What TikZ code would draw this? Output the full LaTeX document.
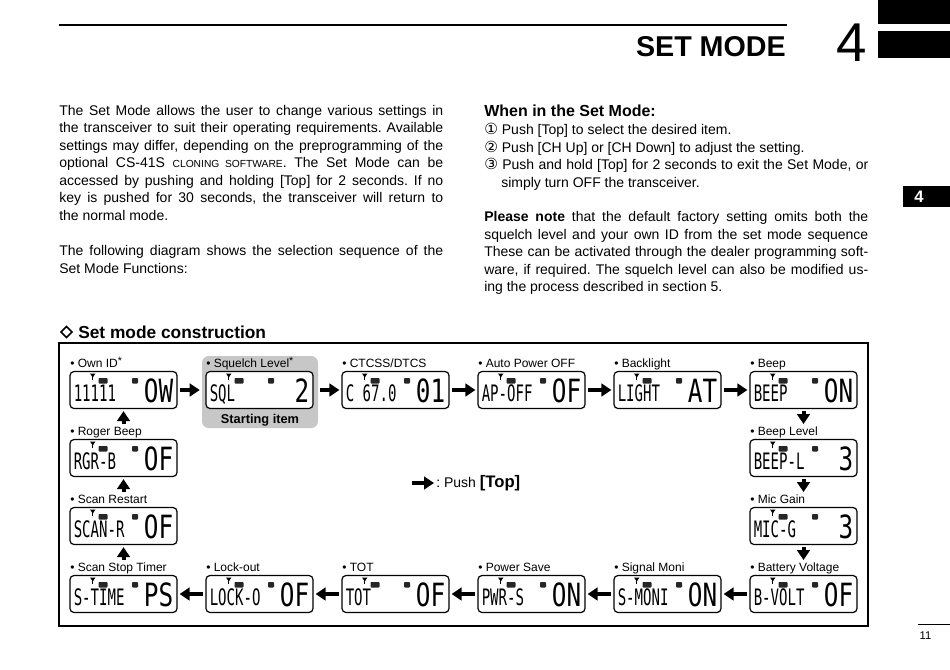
\documentclass[tikz,border=0pt]{standalone}
\usepackage{fontspec}
\setmainfont{Liberation Sans}
\newfontfamily\lcdf{DejaVu Sans Mono}
\newfontfamily\dvs{DejaVu Sans}
\usetikzlibrary{arrows.meta}
\frenchspacing

\newcommand\jline[1]{\makebox[288pt][s]{#1}}
\newcommand\fsc[1]{{\fontsize{7.7}{9}\selectfont #1}}
\newcommand\circd[1]{{\dvs\fontsize{11.5}{12}\selectfont #1}}
\newcommand\lcdsm[1]{\scalebox{0.62}[1]{\lcdf\fontsize{17}{17}\selectfont #1}}
\newcommand\lcdbg[1]{\scalebox{0.76}[1]{\lcdf\fontsize{24}{24}\selectfont #1}}
\newcommand\astr{\raisebox{2pt}{\fontsize{8}{8}\selectfont *}}

\newcommand\lcdunit[6]{%
\begin{scope}[shift={(#2,#3)}]
\node[lcd] (#1) at (0,0) {};
\node[lbl] (#1-l) at (-53.5,-23) {\textbullet\ #4};
\fill (-33.5,-16.5) -- (-28,-16.5) -- (-30.75,-12.5) -- cycle;
\draw[line width=0.6pt] (-30.75,-13) -- (-30.75,-10.5);
\fill[black!85,rounded corners=0.7pt] (-25,-12) rectangle (-16,-6.5);
\fill[black!85,rounded corners=0.7pt] (8.5,-12) rectangle (14.5,-6.5);
\node[inner sep=0pt, anchor=base west] (#1-s) at (-50,11) {\lcdsm{#5}};
\node[inner sep=0pt, anchor=base east] (#1-b) at (50,12) {\lcdbg{#6}};
\end{scope}}

\begin{document}
\begin{tikzpicture}[x=0.75pt,y=-0.75pt,
  txt/.style={font=\fontsize{10.5}{12.6}\selectfont, inner sep=0pt, anchor=base west},
  lbl/.style={font=\fontsize{9}{10}\selectfont, inner sep=0pt, anchor=base west},
  lcd/.style={draw, line width=0.9pt, rounded corners=3pt, fill=white,
    minimum width=80.25pt, minimum height=27.75pt, inner sep=0pt},
  startbox/.style={fill=black!22, rounded corners=5pt, minimum width=87pt,
    minimum height=54pt, inner sep=0pt},
  parr/.style={line width=3pt, -{Triangle[length=7.5pt,width=9.5pt]},
    shorten <=1.5pt, shorten >=1.5pt}]
\useasboundingbox (0,0) rectangle (950,669);

% header
\draw[line width=1.1pt] (59,25) -- (787,25);
\node[inner sep=0pt, anchor=base east, font=\bfseries\fontsize{21.5}{22}\selectfont] (title) at (786,56) {SET MODE};
\node[inner sep=0pt, anchor=base west, font=\fontsize{41}{41}\selectfont] (chap) at (836,61) {4};
\fill (878,0) rectangle (950,24);
\fill (878,31) rectangle (950,58);
\fill (903,186) rectangle (950,207);
\node[inner sep=0pt, text=white, font=\bfseries\fontsize{12.5}{13}\selectfont] (tab) at (919,196.5) {4};
\draw[line width=0.6pt] (918,624) -- (950,624);
\node[inner sep=0pt, font=\fontsize{8.4}{9}\selectfont] (pg) at (925.5,636) {11};

% left column
\node[txt] (p1) at (59,115) {\jline{The Set Mode allows the user to change various settings in}};
\node[txt] (p2) at (59,132.5) {\jline{the transceiver to suit their operating requirements. Available}};
\node[txt] (p3) at (59,150) {\jline{settings may differ, depending on the preprogramming of the}};
\node[txt] (p4) at (59,167.5) {\jline{optional CS-41S \fsc{CLONING SOFTWARE}. The Set Mode can be}};
\node[txt] (p5) at (59,185) {\jline{accessed by pushing and holding [Top] for 2 seconds. If no}};
\node[txt] (p6) at (59,202.5) {\jline{key is pushed for 30 seconds, the transceiver will return to}};
\node[txt] (p7) at (59,220) {the normal mode.};
\node[txt] (p8) at (59,255.5) {\jline{The following diagram shows the selection sequence of the}};
\node[txt] (p9) at (59,273) {Set Mode Functions:};

% right column
\node[txt, font=\bfseries\fontsize{12}{13}\selectfont] (h2) at (484,116.5) {When in the Set Mode:};
\node[txt] (r1) at (484,134.5) {\circd{①} Push [Top] to select the desired item.};
\node[txt] (r2) at (484,152) {\circd{②} Push [CH Up] or [CH Down] to adjust the setting.};
\node[txt] (r3) at (484,169.5) {\jline{\circd{③} Push and hold [Top] for 2 seconds to exit the Set Mode, or}};
\node[txt] (r4) at (501,187) {simply turn OFF the transceiver.};
\node[txt] (r5) at (484,221.5) {\jline{\textbf{Please note} that the default factory setting omits both the}};
\node[txt] (r6) at (484,239) {\jline{squelch level and your own ID from the set mode sequence}};
\node[txt] (r7) at (484,256.5) {\jline{These can be activated through the dealer programming soft-}};
\node[txt] (r8) at (484,274) {\jline{ware, if required. The squelch level can also be modified us-}};
\node[txt] (r9) at (484,291.5) {ing the process described in section 5.};

% section heading
\draw[line width=1.2pt] (61,332) -- (66.5,326.5) -- (72,332) -- (66.5,337.5) -- cycle;
\node[txt, font=\bfseries\fontsize{13}{14}\selectfont] (h3) at (78,338.5) {Set mode construction};

% frame
\draw[line width=0.8pt] (59,343) rectangle (868,626);

% starting item
\node[startbox] (start) at (260,392) {};
\node[inner sep=0pt, font=\bfseries\fontsize{9.6}{10}\selectfont] (sti) at (260,420) {Starting item};

% LCD units
\lcdunit{own}{123.5}{390}{Own ID\astr}{11111}{OW}
\lcdunit{sql}{259.5}{390}{Squelch Level\astr}{SQL}{2}
\lcdunit{ctc}{395.5}{390}{CTCSS/DTCS}{C 67.0}{01}
\lcdunit{apo}{531.5}{390}{Auto Power OFF}{AP-OFF}{OF}
\lcdunit{lgt}{667.5}{390}{Backlight}{LIGHT}{AT}
\lcdunit{bp}{803.5}{390}{Beep}{BEEP}{ON}
\lcdunit{rgb}{123.5}{458}{Roger Beep}{RGR-B}{OF}
\lcdunit{bpl}{803.5}{458}{Beep Level}{BEEP-L}{3}
\lcdunit{scr}{123.5}{526}{Scan Restart}{SCAN-R}{OF}
\lcdunit{mic}{803.5}{526}{Mic Gain}{MIC-G}{3}
\lcdunit{sst}{123.5}{594}{Scan Stop Timer}{S-TIME}{PS}
\lcdunit{lck}{259.5}{594}{Lock-out}{LOCK-O}{OF}
\lcdunit{tot}{395.5}{594}{TOT}{TOT}{OF}
\lcdunit{pws}{531.5}{594}{Power Save}{PWR-S}{ON}
\lcdunit{smn}{667.5}{594}{Signal Moni}{S-MONI}{ON}
\lcdunit{bat}{803.5}{594}{Battery Voltage}{B-VOLT}{OF}

% arrows
\draw[parr] (own.east) -- (start.west |- own.east);
\draw[parr] (start.east |- sql.east) -- (ctc.west);
\draw[parr] (ctc.east) -- (apo.west);
\draw[parr] (apo.east) -- (lgt.west);
\draw[parr] (lgt.east) -- (bp.west);
\draw[parr] (bp.south) -- (bp.south |- bpl-l.north);
\draw[parr] (bpl.south) -- (bpl.south |- mic-l.north);
\draw[parr] (mic.south) -- (mic.south |- bat-l.north);
\draw[parr] (bat.west) -- (smn.east);
\draw[parr] (smn.west) -- (pws.east);
\draw[parr] (pws.west) -- (tot.east);
\draw[parr] (tot.west) -- (lck.east);
\draw[parr] (lck.west) -- (sst.east);
\draw[parr] (scr.south |- sst-l.north) -- (scr.south);
\draw[parr] (rgb.south |- scr-l.north) -- (rgb.south);
\draw[parr] (own.south |- rgb-l.north) -- (own.south);

% legend
\coordinate (lga) at (412,483);
\coordinate (lgb) at (434,483);
\draw[parr, shorten <=0pt, shorten >=0pt] (lga) -- (lgb);
\node[txt] (push) at (436,487.5) {: Push \textbf{\fontsize{12.5}{13}\selectfont [Top]}};
\end{tikzpicture}
\end{document}
